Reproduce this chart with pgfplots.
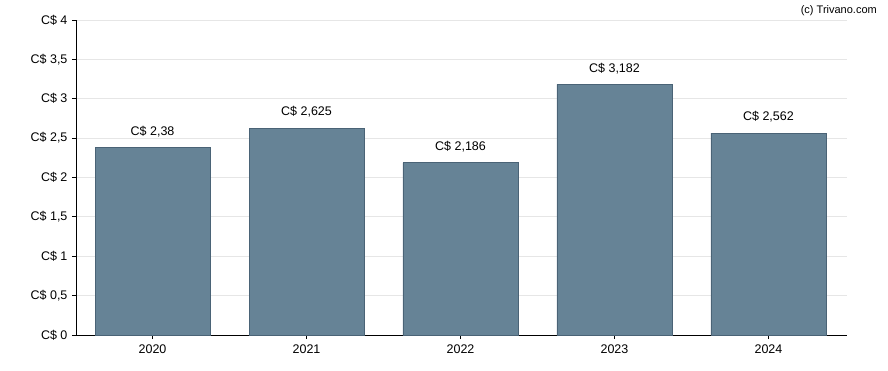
\documentclass[border=0pt]{standalone}
\usepackage{pgfplots}
\pgfplotsset{compat=1.18}
\usepackage{fontspec}
\setmainfont{Liberation Sans}
\definecolor{barfill}{HTML}{668396}
\definecolor{baredge}{HTML}{4A6376}
\definecolor{gridc}{HTML}{E6E6E6}
\begin{document}
\begin{tikzpicture}[x=1pt,y=1pt]
\path[use as bounding box] (0,0) rectangle (888,370);
\begin{axis}[
  at={(76pt,35pt)}, anchor=south west,
  scale only axis, width=771pt, height=315pt,
  xmin=-0.497, xmax=4.51, ymin=0, ymax=4,
  axis x line*=bottom, axis y line*=left,
  axis line style={black, line width=0.9pt},
  xtick={0,1,2,3,4},
  xticklabels={2020,2021,2022,2023,2024},
  ytick={0,0.5,1,1.5,2,2.5,3,3.5,4},
  yticklabels={C\$ 0,C\$ 0{,}5,C\$ 1,C\$ 1{,}5,C\$ 2,C\$ 2{,}5,C\$ 3,C\$ 3{,}5,C\$ 4},
  tick align=outside, major tick length=4pt,
  tick style={black, line width=0.8pt},
  ymajorgrids, grid style={gridc, line width=0.8pt},
  tick label style={font=\fontsize{12.5}{14}\selectfont},
  yticklabel style={xshift=-1pt},
  xticklabel style={yshift=-2pt},
  /pgf/number format/assume math mode=true,
  ybar, bar width=0.747,
  point meta=explicit symbolic,
  nodes near coords,
  nodes near coords style={font=\fontsize{12.5}{14}\selectfont, yshift=7pt},
  clip=false,
]
\addplot[fill=barfill, draw=baredge, line width=0.8pt] coordinates {
 (0,2.38) [C\$ 2,38]
 (1,2.625) [C\$ 2,625]
 (2,2.186) [C\$ 2,186]
 (3,3.182) [C\$ 3,182]
 (4,2.562) [C\$ 2,562]
};
\end{axis}
\node[anchor=north east, font=\fontsize{11}{13}\selectfont, inner sep=0pt] at (877,365) {(c) Trivano.com};
\end{tikzpicture}
\end{document}
